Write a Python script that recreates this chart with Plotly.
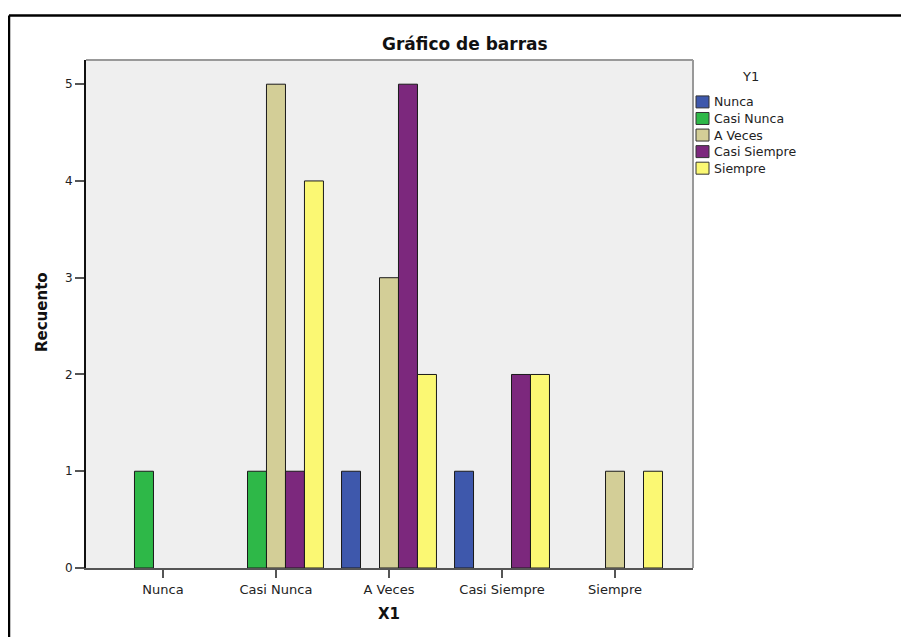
import plotly.graph_objects as go

# ---- data ----
categories = ["Nunca", "Casi Nunca", "A Veces", "Casi Siempre", "Siempre"]
series_names = ["Nunca", "Casi Nunca", "A Veces", "Casi Siempre", "Siempre"]
nunca = [0, 0, 1, 1, 0]
casi_nunca = [1, 1, 0, 0, 0]
a_veces = [0, 5, 3, 0, 1]
casi_siempre = [0, 1, 5, 2, 0]
siempre = [0, 4, 2, 2, 1]
series_values = [nunca, casi_nunca, a_veces, casi_siempre, siempre]
y_ticks = [0, 1, 2, 3, 4, 5]
colors = ["#3E58AC", "#2EB848", "#D3CE97", "#7C287D", "#FBF873"]

# page body adds an 8px offset; work in reference-window pixels
OFF = 8
WIN_W, WIN_H = 909, 637
W, H = WIN_W - OFF, WIN_H - OFF
# plot area in window pixels
PL, PR, PT, PB = 86, 693, 59.5, 568.5
L, R, T, B = PL - OFF, WIN_W - PR, PT - OFF, WIN_H - PB
pw, ph = PR - PL, PB - PT

def fx(px):
    return (px - PL) / pw

def fy(py):
    return (PB - py) / ph

font = "DejaVu Sans, Liberation Sans, Arial, sans-serif"

fig = go.Figure()
for name, vals, col in zip(series_names, series_values, colors):
    fig.add_trace(go.Bar(
        x=categories, y=[v if v else None for v in vals], name=name,
        marker=dict(color=col, line=dict(color="#1a1a1a", width=1)),
        showlegend=False,
    ))

shapes = []
annotations = []

# outer border (top + left)
shapes.append(dict(type="line", xref="paper", yref="paper",
                   x0=fx(9), x1=fx(920), y0=fy(15), y1=fy(15),
                   line=dict(color="black", width=2.5)))
shapes.append(dict(type="line", xref="paper", yref="paper",
                   x0=fx(9), x1=fx(9), y0=fy(15), y1=fy(650),
                   line=dict(color="black", width=2.5)))
# plot frame top/right gray
shapes.append(dict(type="line", xref="paper", yref="paper", x0=0, x1=1, y0=1, y1=1,
                   line=dict(color="#999999", width=2)))
shapes.append(dict(type="line", xref="paper", yref="paper", x0=1, x1=1, y0=0, y1=1,
                   line=dict(color="#999999", width=2)))

# custom legend
annotations.append(dict(text="Y1", xref="paper", yref="paper",
                        x=fx(750), y=fy(76), showarrow=False,
                        xanchor="center", yanchor="middle",
                        font=dict(family=font, size=13, color="#222")))
for i, (name, col) in enumerate(zip(series_names, colors)):
    cy = 101.5 + i * 16.6
    shapes.append(dict(type="rect", xref="paper", yref="paper",
                       x0=fx(696), x1=fx(709),
                       y0=fy(cy - 6), y1=fy(cy + 6),
                       fillcolor=col, line=dict(color="#333", width=1)))
    annotations.append(dict(text=name, xref="paper", yref="paper",
                            x=fx(712), y=fy(cy), showarrow=False,
                            xanchor="left", yanchor="middle",
                            font=dict(family=font, size=12.5, color="#222")))

# title and axis titles
annotations.append(dict(text="<b>Gráfico de barras</b>", xref="paper", yref="paper",
                        x=fx(465), y=fy(43), showarrow=False,
                        xanchor="center", yanchor="middle",
                        font=dict(family=font, size=17, color="#111")))
annotations.append(dict(text="<b>X1</b>", xref="paper", yref="paper",
                        x=fx(389), y=fy(615), showarrow=False,
                        xanchor="center", yanchor="middle",
                        font=dict(family=font, size=15, color="#111")))
annotations.append(dict(text="<b>Recuento</b>", xref="paper", yref="paper",
                        x=fx(42), y=fy(312), showarrow=False,
                        xanchor="center", yanchor="middle", textangle=-90,
                        font=dict(family=font, size=15, color="#111")))

fig.update_layout(
    width=W, height=H,
    margin=dict(l=L, r=R, t=T, b=B, pad=0),
    paper_bgcolor="white",
    plot_bgcolor="#EFEFEF",
    barmode="group",
    bargap=0.16,
    bargroupgap=0,
    shapes=shapes,
    annotations=annotations,
    showlegend=False,
    font=dict(family=font, size=12, color="#333"),
)
fig.update_xaxes(
    type="category", range=[-0.681, 4.69],
    showgrid=False, zeroline=False,
    showline=True, linecolor="#555555", linewidth=2,
    ticks="outside", ticklen=8, tickcolor="#555555", tickwidth=1.5,
    tickfont=dict(family=font, size=13, color="#222"),
)
fig.update_yaxes(
    range=[0, 5.25], tickvals=y_ticks,
    showgrid=False, zeroline=False,
    showline=True, linecolor="#111111", linewidth=2,
    ticks="outside", ticklen=9, tickcolor="#555555", tickwidth=1.5,
    tickfont=dict(family=font, size=12, color="#222"),
)

fig.write_html("out.html")
